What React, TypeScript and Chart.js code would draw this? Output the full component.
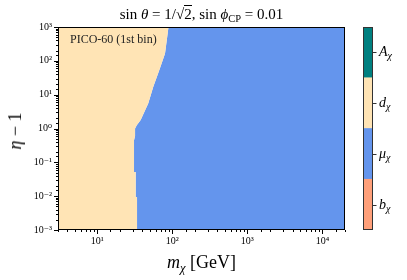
import React, { useEffect, useRef } from 'react';
import { Chart, registerables } from 'chart.js';

Chart.register(...registerables);

const FONT = '"Liberation Serif", "DejaVu Serif", serif';

// axis ranges
const X_MIN = 3;
const X_MAX = 20000;
const Y_MIN = 1e-3;
const Y_MAX = 1e3;

// boundary between the d_chi region (left) and the mu_chi region (right)
const boundaryMass = [33.9, 33.9, 32.5, 32.5, 30.9, 30.9, 31.9, 31.9, 33.6, 37.9, 47.9, 55.8, 67.2, 80, 89];
const boundaryEta = [0.001, 0.0094, 0.0094, 0.052, 0.052, 0.45, 0.6, 1.0, 1.25, 1.78, 5.56, 17.2, 53.7, 166, 1000];

// colour bar categories
const regionLetters = ['b', 'μ', 'd', 'A'];
const regionColors = ['#FFA07A', '#6495ED', '#FFE4B5', '#008080'];

// tick labels
const xTickValues = [10, 100, 1000, 10000];
const xTickLabels = ['10¹', '10²', '10³', '10⁴'];
const yTickValues = [1e-3, 1e-2, 1e-1, 1, 10, 100, 1000];
const yTickLabels = ['10⁻³', '10⁻²', '10⁻¹', '10⁰', '10¹', '10²', '10³'];

const isPow10 = (v: number) => {
  const e = Math.log10(v);
  return Math.abs(e - Math.round(e)) < 1e-6;
};

const labelFor = (values: number[], labels: string[]) => (v: any) => {
  const n = Number(v);
  const i = values.findIndex((t) => Math.abs(Math.log10(t) - Math.log10(n)) < 1e-6);
  return i >= 0 ? labels[i] : '';
};

const axesFrame = {
  id: 'axesFrame',
  afterDraw(chart: any) {
    const { ctx, chartArea: a } = chart;
    const sx = chart.scales.x;
    const sy = chart.scales.y;
    ctx.save();
    ctx.strokeStyle = '#000';
    ctx.lineWidth = 1;
    ctx.beginPath();
    for (const t of sx.ticks) {
      const p = Math.round(sx.getPixelForValue(t.value)) + 0.5;
      const len = isPow10(t.value) ? 4 : 2;
      ctx.moveTo(p, a.bottom);
      ctx.lineTo(p, a.bottom + len);
    }
    for (const t of sy.ticks) {
      const p = Math.round(sy.getPixelForValue(t.value)) + 0.5;
      const len = isPow10(t.value) ? 4 : 2;
      ctx.moveTo(a.left, p);
      ctx.lineTo(a.left - len, p);
    }
    ctx.stroke();
    ctx.strokeRect(Math.round(a.left) + 0.5, Math.round(a.top) + 0.5, Math.round(a.right - a.left) - 1, Math.round(a.bottom - a.top) - 1);
    ctx.restore();
  },
};

const colorbarFrame = {
  id: 'colorbarFrame',
  afterDraw(chart: any) {
    const { ctx, chartArea: a } = chart;
    const sy = chart.scales.y;
    ctx.save();
    ctx.strokeStyle = '#333';
    ctx.lineWidth = 1;
    ctx.strokeRect(Math.round(a.left) + 0.5, Math.round(a.top) + 0.5, Math.round(a.right - a.left) - 1, Math.round(a.bottom - a.top) - 1);
    ctx.beginPath();
    regionLetters.forEach((letter, i) => {
      const p = Math.round(sy.getPixelForValue(i + 0.5)) + 0.5;
      ctx.moveTo(a.right, p);
      ctx.lineTo(a.right + 3.5, p);
    });
    ctx.stroke();
    ctx.fillStyle = '#000';
    ctx.textBaseline = 'alphabetic';
    regionLetters.forEach((letter, i) => {
      const p = sy.getPixelForValue(i + 0.5);
      const x0 = a.right + 6;
      ctx.font = `italic 14px ${FONT}`;
      ctx.fillText(letter, x0, p + 4);
      const w = ctx.measureText(letter).width;
      ctx.font = `italic 10px ${FONT}`;
      ctx.fillText('χ', x0 + w, p + 7);
    });
    ctx.restore();
  },
};

export default function App() {
  const mainRef = useRef<HTMLCanvasElement>(null);
  const cbRef = useRef<HTMLCanvasElement>(null);

  useEffect(() => {
    const pts = boundaryMass.map((m, i) => ({ x: m, y: boundaryEta[i] }));
    const main = new Chart(mainRef.current as HTMLCanvasElement, {
      type: 'line',
      data: {
        datasets: [
          {
            label: 'd',
            data: pts,
            borderWidth: 0,
            pointRadius: 0,
            backgroundColor: regionColors[2],
            fill: { value: X_MIN },
          },
          {
            label: 'mu',
            data: pts,
            borderWidth: 0,
            pointRadius: 0,
            backgroundColor: regionColors[1],
            fill: { value: X_MAX },
          },
        ],
      } as any,
      options: {
        indexAxis: 'y',
        animation: false,
        responsive: false,
        events: [],
        layout: { padding: { left: 0, top: 27, right: 5, bottom: 0 } },
        plugins: { legend: { display: false }, tooltip: { enabled: false }, title: { display: false } },
        scales: {
          x: {
            type: 'logarithmic',
            position: 'bottom',
            min: X_MIN,
            max: X_MAX,
            grid: { display: false, drawTicks: false },
            border: { display: false },
            ticks: {
              autoSkip: false,
              maxRotation: 0,
              minRotation: 0,
              padding: 5,
              color: '#000',
              font: { family: FONT, size: 10 },
              callback: labelFor(xTickValues, xTickLabels),
            },
            afterFit: (s: any) => {
              s.height = 50;
            },
          },
          y: {
            type: 'logarithmic',
            position: 'left',
            min: Y_MIN,
            max: Y_MAX,
            grid: { display: false, drawTicks: false },
            border: { display: false },
            ticks: {
              autoSkip: false,
              padding: 6,
              color: '#000',
              font: { family: FONT, size: 10 },
              callback: labelFor(yTickValues, yTickLabels),
            },
            afterFit: (s: any) => {
              s.width = 58;
            },
          },
        },
      } as any,
      plugins: [axesFrame],
    });

    const cb = new Chart(cbRef.current as HTMLCanvasElement, {
      type: 'bar',
      data: {
        labels: [''],
        datasets: regionLetters.map((l, i) => ({
          label: l,
          data: [1],
          backgroundColor: regionColors[i],
          borderWidth: 0,
          barPercentage: 1,
          categoryPercentage: 1,
        })),
      },
      options: {
        animation: false,
        responsive: false,
        events: [],
        layout: { padding: { left: 8, top: 27, right: 0, bottom: 50 } },
        plugins: { legend: { display: false }, tooltip: { enabled: false } },
        scales: {
          x: { stacked: true, display: false },
          y: {
            stacked: true,
            min: 0,
            max: 4,
            position: 'right',
            grid: { display: false, drawTicks: false },
            border: { display: false },
            ticks: { display: false },
            afterFit: (s: any) => {
              s.width = 34;
            },
          },
        },
      } as any,
      plugins: [colorbarFrame],
    });

    return () => {
      main.destroy();
      cb.destroy();
    };
  }, []);

  const sub: React.CSSProperties = { fontSize: '70%', verticalAlign: '-0.3em', lineHeight: 0 };

  return (
    <div style={{ position: 'absolute', left: 0, top: 0, width: 407, height: 280, background: '#fff', fontFamily: FONT, color: '#000', overflow: 'hidden' }}>
      <canvas ref={mainRef} width={350} height={280} style={{ position: 'absolute', left: 0, top: 0 }} />
      <canvas ref={cbRef} width={52} height={280} style={{ position: 'absolute', left: 355, top: 0 }} />
      <div style={{ position: 'absolute', left: 58, width: 287, top: 7, fontSize: 15, lineHeight: '15px', textAlign: 'center', whiteSpace: 'nowrap' }}>
        sin <i>θ</i> = 1/√<span style={{ borderTop: '1px solid #000' }}>2</span>, sin <i>ϕ</i>
        <span style={sub}>CP</span> = 0.01
      </div>
      <div style={{ position: 'absolute', left: 70, top: 33, fontSize: 12, lineHeight: '12px', whiteSpace: 'nowrap', color: '#222' }}>
        PICO-60 (1st bin)
      </div>
      <div style={{ position: 'absolute', left: 58, width: 287, top: 253, fontSize: 18, lineHeight: '18px', textAlign: 'center', whiteSpace: 'nowrap' }}>
        <i>m</i>
        <i style={sub}>χ</i> [GeV]
      </div>
      <div style={{ position: 'absolute', left: 15, top: 131, fontSize: 18, lineHeight: '18px', whiteSpace: 'nowrap', transform: 'translate(-50%, -50%) rotate(-90deg)' }}>
        <i>η</i> − 1
      </div>
    </div>
  );
}
